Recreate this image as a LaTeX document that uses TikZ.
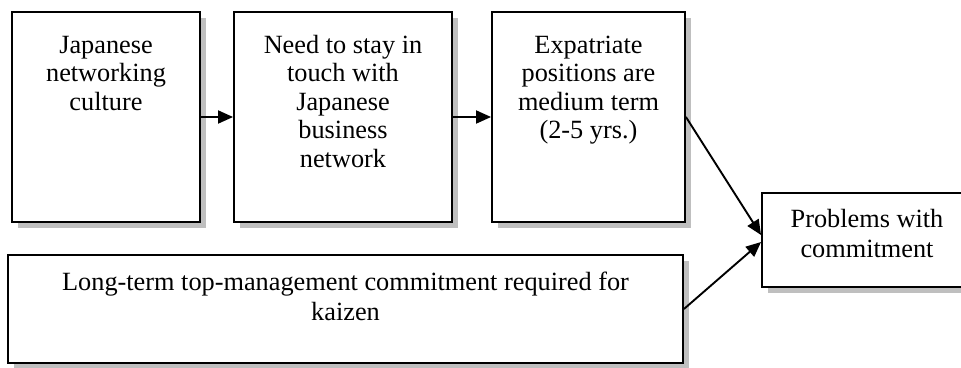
\documentclass[tikz,border=0pt]{standalone}
\usepackage{fontspec}
\setmainfont{Liberation Serif}
\usetikzlibrary{arrows.meta,shadows}
\newcommand\fl{\rule{0pt}{20pt}}
\tikzset{
  box/.style={draw=black, line width=1.9pt, fill=white, rectangle, inner sep=0pt,
    drop shadow={shadow xshift=6pt, shadow yshift=-6pt, fill=black!25, opacity=1}},
  txt/.style={anchor=north, inner sep=0pt, align=center,
    font=\fontsize{26.3pt}{28.5pt}\selectfont},
  txtb/.style={txt, font=\fontsize{26.3pt}{30pt}\selectfont},
  conn/.style={line width=1.9pt, -{Triangle[length=15pt,width=13pt]}}
}
\begin{document}
\begin{tikzpicture}[x=1pt,y=-1pt]
\clip (0,0) rectangle (961,367);
\useasboundingbox (0,0) rectangle (961,367);
\node[box, minimum width=188pt, minimum height=210pt] (b1) at (106,117) {};
\node[box, minimum width=218pt, minimum height=210pt] (b2) at (343,117) {};
\node[box, minimum width=193pt, minimum height=210pt] (b3) at (588.5,117) {};
\node[box, minimum width=210pt, minimum height=94pt] (b4) at (867,240) {};
\node[box, minimum width=675pt, minimum height=108pt] (b5) at (345.5,309) {};
\node[txt] (t1) at (106,33) {\fl Japanese\\networking\\culture};
\node[txt] (t2) at (343,33) {\fl Need to stay in\\touch with\\Japanese\\business\\network};
\node[txt] (t3) at (588.5,33) {\fl Expatriate\\positions are\\medium term\\(2-5 yrs.)};
\node[txtb] (t4) at (867,207) {\fl Problems with\\commitment};
\node[txtb] (t5) at (345.5,270) {\fl Long-term top-management commitment required for\\kaizen};
\draw[conn] (b1.east) -- (b2.west);
\draw[conn] (b2.east) -- (b3.west);
\draw[conn] (b3.east) -- ([yshift=5pt]b4.west);
\draw[conn] (b5.east) -- ([yshift=-2pt]b4.west);
\end{tikzpicture}
\end{document}
